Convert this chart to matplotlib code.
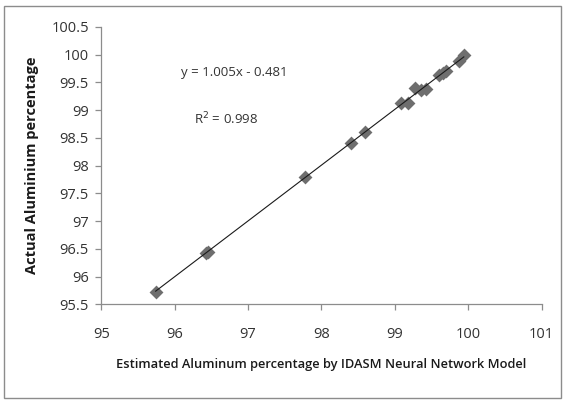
import matplotlib
matplotlib.use("Agg")
import matplotlib.pyplot as plt
from matplotlib.patches import Rectangle
import numpy as np

estimated = [95.74, 96.42, 96.46, 97.77, 98.40, 98.60, 99.08, 99.18, 99.27, 99.36, 99.42, 99.60, 99.66, 99.70, 99.88, 99.94]
actual = [95.72, 96.43, 96.44, 97.79, 98.41, 98.61, 99.12, 99.12, 99.40, 99.37, 99.38, 99.63, 99.67, 99.71, 99.88, 99.99]
slope = 1.005
intercept = -0.481
r2 = 0.998
x_ticks = [95, 96, 97, 98, 99, 100, 101]
y_ticks = [95.5, 96, 96.5, 97, 97.5, 98, 98.5, 99, 99.5, 100, 100.5]

plt.rcParams['font.family'] = ['Open Sans', 'DejaVu Sans']

fig = plt.figure(figsize=(5.63, 4.01), dpi=100)
fig.patches.append(Rectangle((0.007, 0.0075), 0.989, 0.977, transform=fig.transFigure,
                             fill=False, edgecolor='#8c8c8c', linewidth=1.0))
ax = fig.add_axes([0.180, 0.241, 0.782, 0.692])

ax.scatter(estimated, actual, marker='D', s=50, color='#6e6e6e', zorder=3, linewidths=0)
xs = np.array([min(estimated), max(estimated)])
ax.plot(xs, slope * xs + intercept, color='#1a1a1a', linewidth=0.8, zorder=4)

ax.set_xlim(95, 101)
ax.set_ylim(95.5, 100.5)
ax.set_xticks(x_ticks)
ax.set_xticklabels([str(t) for t in x_ticks])
ax.set_yticks(y_ticks)
ax.set_yticklabels([('%g' % t) for t in y_ticks])

for s in ['top', 'right']:
    ax.spines[s].set_visible(False)
for s in ['left', 'bottom']:
    ax.spines[s].set_color('#8c8c8c')
    ax.spines[s].set_linewidth(0.9)
ax.tick_params(axis='both', colors='#8c8c8c', labelcolor='#333333', labelsize=10.5, length=4, width=0.9)
ax.tick_params(axis='x', pad=12)
ax.tick_params(axis='y', pad=5)

ax.set_xlabel('Estimated Aluminum percentage by IDASM Neural Network Model', fontsize=9.3, color='#1a1a1a',
              labelpad=12, fontweight='semibold')
ax.set_ylabel('Actual Aluminium percentage', fontsize=10.5, fontweight='bold', color='#1a1a1a', labelpad=9)

ax.text(96.09, 99.67, 'y = 1.005x - 0.481', fontsize=9.5, color='#333333', va='center')
ax.text(96.26, 98.84, 'R$^2$ = 0.998', fontsize=9.5, color='#333333', va='center')

fig.savefig('out.png', dpi=100)
